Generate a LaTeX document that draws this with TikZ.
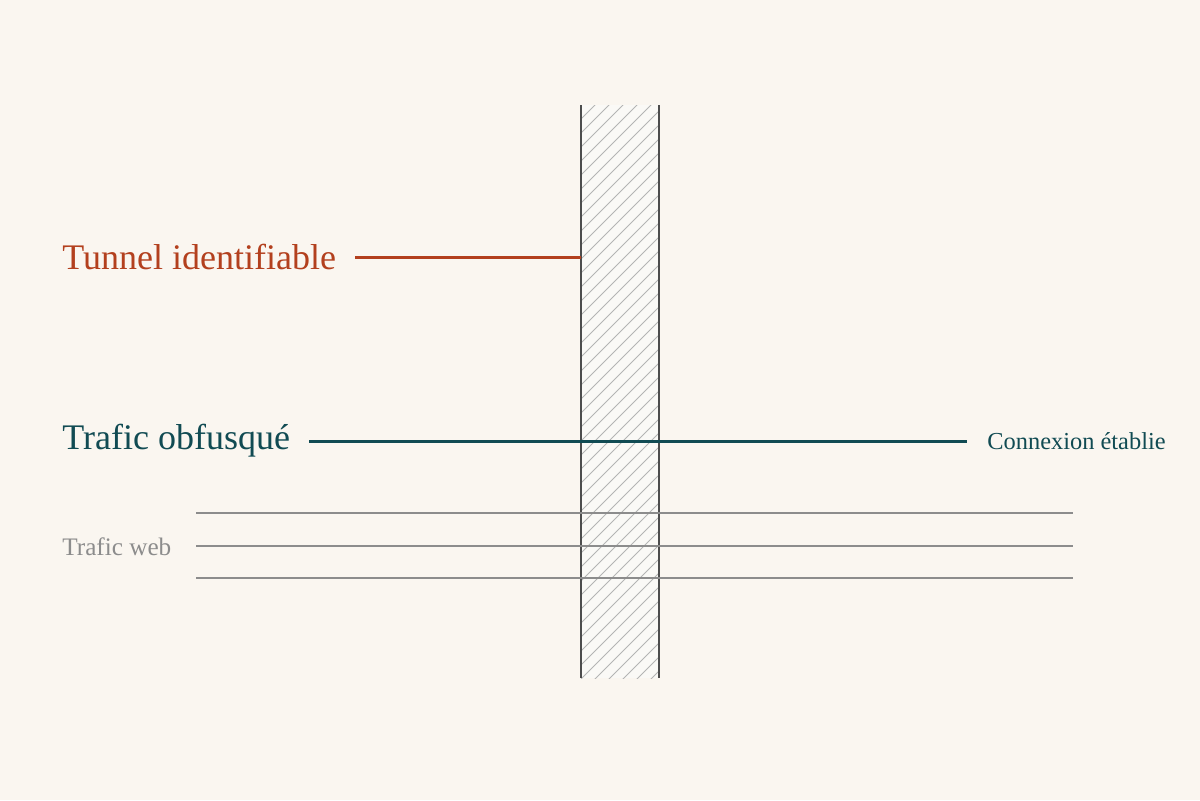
\documentclass[tikz,border=0pt]{standalone}
\usepackage{fontspec}
\setmainfont{Liberation Serif}
\usetikzlibrary{positioning}
\definecolor{paper}{HTML}{FAF6F0}
\definecolor{wallfill}{HTML}{FAF9F6}
\definecolor{walledge}{HTML}{4D4D4D}
\definecolor{hatchgray}{HTML}{B4B4B4}
\definecolor{rust}{HTML}{B3401E}
\definecolor{teal}{HTML}{114B53}
\definecolor{webgray}{HTML}{8C8C8C}

\begin{document}
\begin{tikzpicture}[x=0.5pt,y=-0.5pt,
    lbl/.style={inner sep=0pt, anchor=west},
    hatch/.style={hatchgray, line width=0.5pt},
    webline/.style={webgray, line width=1pt}]
        \fill[paper] (0,0) rectangle (1200,800);
        % the wall
        \fill[wallfill] (581,105) rectangle (659,678);
        \begin{scope}
            \clip (581,105) rectangle (659,678);
            \foreach \k in {0,...,50}{\draw[hatch] (581,105+14*\k) -- ++(100,-100);}
        \end{scope}
        \foreach \x in {581,659}{\path[draw, walledge, line width=1pt] (\x,105) -- (\x,678);}
        % labels
        \node[lbl, text=rust, font=\fontsize{18}{20}\selectfont] (tunnel) at (62,257) {Tunnel identifiable};
        \node[lbl, text=teal, font=\fontsize{18}{20}\selectfont] (obfus) at (62,441) {Trafic obfusqué};
        \node[lbl, text=teal, font=\fontsize{12.2}{14}\selectfont] (conn) at (987,441) {Connexion établie};
        \node[lbl, text=webgray, font=\fontsize{12.6}{14}\selectfont] (web) at (62,547) {Trafic web};
        \coordinate (wallhit) at (581,257);
        % web traffic
        \foreach \y in {513,546,578}{\draw[webline] (196,\y) -- (1073,\y);}
       \draw[rust, line width=1.5pt, shorten <=9.5pt] (tunnel.east) -- (wallhit);
       \draw[teal, line width=1.5pt, shorten <=9.5pt, shorten >=10pt] (obfus.east) -- (conn.west);
    \end{tikzpicture}
\end{document}
